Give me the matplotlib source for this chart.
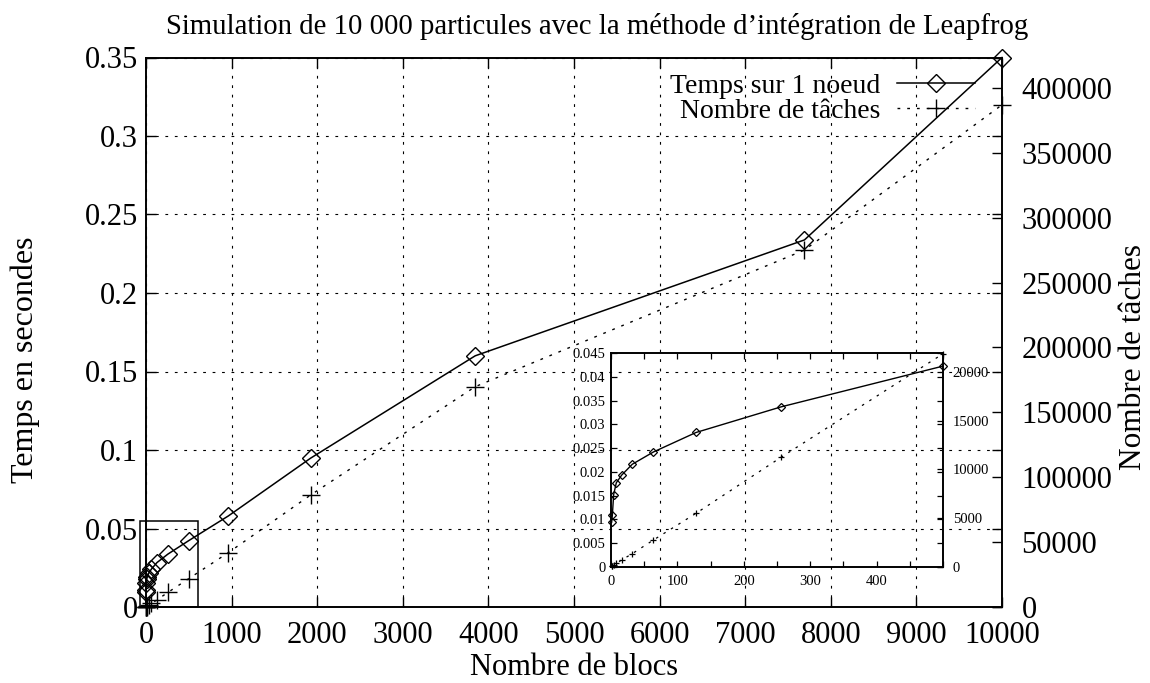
import matplotlib
matplotlib.use("Agg")
import matplotlib.pyplot as plt
from matplotlib.patches import Rectangle
from matplotlib.ticker import FuncFormatter, MultipleLocator

# Mesures : nombre de blocs, temps d'une itération et nombre de tâches
blocks = [1, 2, 4, 8, 16, 32, 64, 128, 256, 500, 962, 1923, 3846, 7692, 10000]
temps = [0.0094, 0.0108, 0.0152, 0.0177, 0.0193, 0.0216, 0.0242, 0.0283,
         0.0337, 0.0423, 0.058, 0.0948, 0.160, 0.2338, 0.350]
taches = [40, 85, 170, 340, 690, 1340, 2750, 5490, 11250, 21900, 41900,
          86300, 169800, 275100, 387000]

# Nombre de points repris dans l'encart (blocs <= 500)
n_zoom = 10

label_temps = "Temps sur 1 noeud"
label_taches = "Nombre de tâches"
title = "Simulation de 10 000 particules avec la méthode d\u2019intégration de Leapfrog"

plt.rcParams["font.family"] = ["Liberation Serif", "DejaVu Serif"]

fmt = FuncFormatter(lambda v, p: f"{v:g}")
dotted = (0, (2, 5))

fig = plt.figure(figsize=(11.5, 6.83), dpi=100)
W, H = 1150, 683


def frac(l, t, r, b):
    return [l / W, 1 - b / H, (r - l) / W, (b - t) / H]


# ---------- main plot ----------
ax = fig.add_axes(frac(146, 57.5, 1002, 607))
ax2 = ax.twinx()

ax.set_xlim(0, 10000)
ax.set_ylim(0, 0.35)
ax2.set_ylim(0, 423500)

ax.xaxis.set_major_locator(MultipleLocator(1000))
ax.yaxis.set_major_locator(MultipleLocator(0.05))
ax2.yaxis.set_major_locator(MultipleLocator(50000))
ax.yaxis.set_major_formatter(fmt)

ax.grid(True, color="black", lw=0.8, linestyle=(0, (2.5, 6)))

for a in (ax, ax2):
    for s in a.spines.values():
        s.set_linewidth(1.2)
ax.tick_params(direction="in", length=7, width=1, top=True, right=True,
               labelsize=22, pad=6)
ax.tick_params(axis="x", pad=10)
ax2.tick_params(direction="in", length=7, width=1, labelsize=22, pad=14)

l1, = ax.plot(blocks, temps, color="black", lw=1.1, marker="D", ms=9,
              mfc="none", mew=1.0, clip_on=False, zorder=5,
              label=label_temps)
l2, = ax2.plot(blocks, taches, color="black", lw=1.0, ls=dotted,
               marker="+", ms=13, mew=1.0, clip_on=False, zorder=5,
               label=label_taches)

ax.set_xlabel("Nombre de blocs", fontsize=22)
ax.xaxis.set_label_coords(0.5, -0.083)
ax.set_ylabel("Temps en secondes", fontsize=23)
ax.yaxis.set_label_coords(-0.124, 0.45)
ax2.set_ylabel(label_taches, fontsize=22.5)
ax2.yaxis.set_label_coords(1.137, 0.455)

leg = ax2.legend([l1, l2], [label_temps, label_taches], loc="upper right",
                 bbox_to_anchor=(0.9685, 0.971), borderaxespad=0,
                 borderpad=0, markerfirst=False, frameon=False,
                 fontsize=20, handlelength=2.8, handletextpad=0.6,
                 labelspacing=-0.02)

# cadre de la zone agrandie
ax.add_patch(Rectangle((-75, 0), 680, 0.0548, fill=False, ec="black",
                       lw=1.1, clip_on=False, zorder=6))

fig.text(597 / W, 1 - 26 / H, title, ha="center", va="center", fontsize=20.7)

# ---------- inset ----------
ai = fig.add_axes(frac(611, 353.3, 943, 566.7))
ai.patch.set_alpha(0)
ai2 = ai.twinx()
ai2.patch.set_alpha(0)

ai.set_xlim(0, 500)
ai.set_ylim(0, 0.045)
ai2.set_ylim(0, 21950)
ai.set_xticks([0, 100, 200, 300, 400])
ai.xaxis.set_minor_locator(MultipleLocator(50))
ai.yaxis.set_major_locator(MultipleLocator(0.005))
ai.yaxis.set_major_formatter(fmt)
ai2.yaxis.set_major_locator(MultipleLocator(5000))

for a in (ai, ai2):
    for s in a.spines.values():
        s.set_linewidth(1.2)
ai.tick_params(direction="in", length=4, width=0.9, top=True, right=True,
               labelsize=10.5, pad=4)
ai.tick_params(axis="x", pad=6)
ai.tick_params(which="minor", direction="in", length=4, width=0.9, top=True)
ai2.tick_params(direction="in", length=4, width=0.9, labelsize=10.5, pad=7)

ai.plot(blocks[:n_zoom], temps[:n_zoom], color="black", lw=1.0, marker="D",
        ms=4, mfc="none", mew=0.9, clip_on=False, zorder=5)
ai2.plot(blocks[:n_zoom], taches[:n_zoom], color="black", lw=0.9, ls=dotted,
         marker="+", ms=5, mew=0.9, clip_on=False, zorder=5)

fig.savefig("out.png", dpi=100)
